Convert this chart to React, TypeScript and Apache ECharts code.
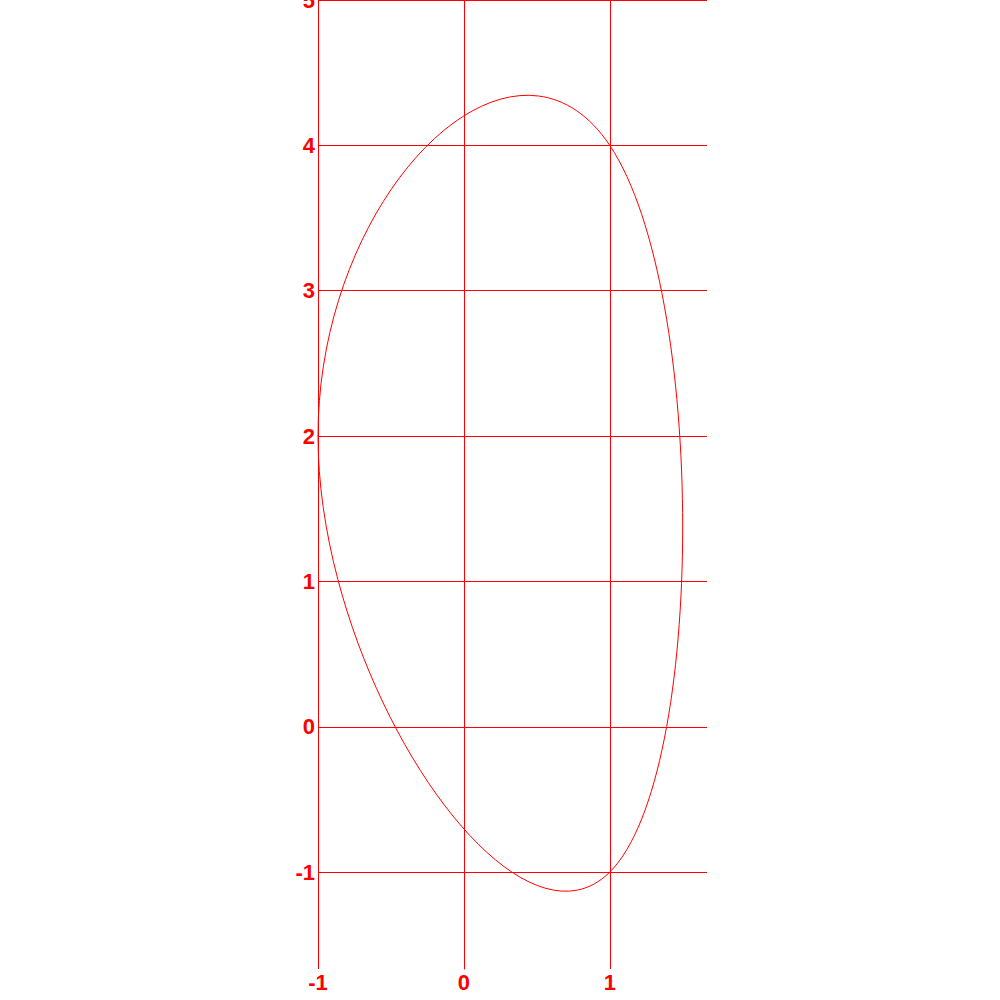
import React, { useEffect, useRef } from "react";
import * as echarts from "echarts";

// The closed curve passes through these three points,
// going clockwise: left vertex, top-right vertex, bottom-right vertex.
const knotX = [-1, 1, 1];
const knotY = [2, 4, -1];

const xMin = -1;
const xMax = 5 / 3;
const yMin = -5 / 3;
const yMax = 5;

const RED = "#ff0000";
const TENSION = 1 / 3; // control-point offset factor of the closed spline

const intLabel = (v: number) => {
  const r = Math.round(v);
  return Math.abs(v - r) < 1e-6 ? String(r) : "";
};

export default function App() {
  const ref = useRef<HTMLDivElement>(null);
  useEffect(() => {
    if (!ref.current) return;
    const chart = echarts.init(ref.current, undefined, { renderer: "svg" });
    const n = knotX.length;
    const data = knotX.map((x, i) => [x, knotY[i]]);
    const labelStyle = {
      color: RED,
      fontWeight: "bold" as const,
      fontSize: 22,
      fontFamily: "Liberation Sans, Arial, sans-serif",
      formatter: intLabel,
    };
    chart.setOption({
      animation: false,
      backgroundColor: "#ffffff",
      grid: {
        left: 318,
        right: 293,
        top: 0,
        bottom: 31,
        containLabel: false,
        outerBoundsMode: "none",
      },
      xAxis: {
        type: "value",
        min: xMin,
        max: xMax,
        splitNumber: 2,
        axisLine: { show: false },
        axisTick: { show: false },
        axisLabel: { ...labelStyle, margin: 2, showMaxLabel: false },
        splitLine: {
          show: true,
          showMinLine: true,
          showMaxLine: false,
          lineStyle: { color: RED, width: 1 },
        },
      },
      yAxis: {
        type: "value",
        min: yMin,
        max: yMax,
        splitNumber: 5,
        axisLine: { show: true, lineStyle: { color: RED, width: 1 } },
        axisTick: { show: false },
        axisLabel: { ...labelStyle, margin: 3, showMinLabel: false },
        splitLine: {
          show: true,
          showMinLine: false,
          showMaxLine: true,
          lineStyle: { color: RED, width: 1 },
        },
      },
      series: [
        {
          type: "custom",
          coordinateSystem: "cartesian2d",
          data,
          encode: { x: 0, y: 1 },
          clip: false,
          renderItem: (params: any, api: any) => {
            const i = params.dataIndex;
            const pt = (k: number) => {
              const j = ((k % n) + n) % n;
              return api.coord([knotX[j], knotY[j]]);
            };
            const p0 = pt(i - 1);
            const p1 = pt(i);
            const p2 = pt(i + 1);
            const p3 = pt(i + 2);
            return {
              type: "bezierCurve",
              shape: {
                x1: p1[0],
                y1: p1[1],
                cpx1: p1[0] + (p2[0] - p0[0]) * TENSION,
                cpy1: p1[1] + (p2[1] - p0[1]) * TENSION,
                cpx2: p2[0] - (p3[0] - p1[0]) * TENSION,
                cpy2: p2[1] - (p3[1] - p1[1]) * TENSION,
                x2: p2[0],
                y2: p2[1],
              },
              style: { stroke: RED, lineWidth: 1, fill: "none" },
            };
          },
        },
      ],
    });
    return () => chart.dispose();
  }, []);
  return (
    <div
      ref={ref}
      style={{ position: "fixed", left: 0, top: 0, width: 1000, height: 1000 }}
    />
  );
}
